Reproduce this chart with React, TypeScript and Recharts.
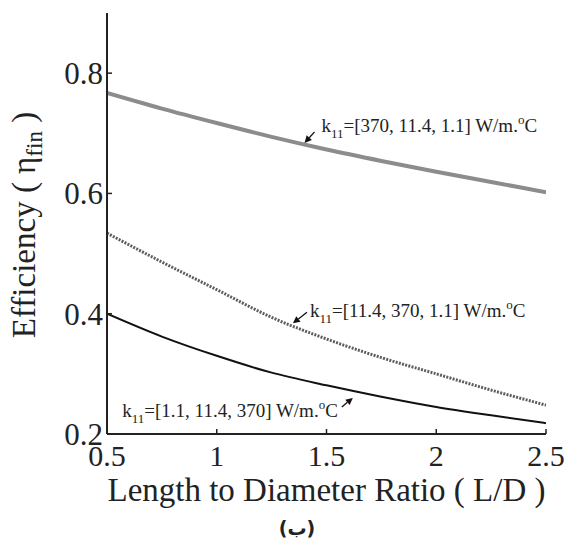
import React from 'react';
import { LineChart, Line, XAxis, YAxis, ReferenceDot } from 'recharts';

const ratios = [0.5, 0.75, 1.0, 1.25, 1.5, 1.75, 2.0, 2.25, 2.5];
const effA = [0.767, 0.741, 0.717, 0.694, 0.673, 0.654, 0.636, 0.619, 0.602];
const effB = [0.534, 0.486, 0.44, 0.394, 0.358, 0.327, 0.3, 0.273, 0.248];
const effC = [0.4, 0.362, 0.33, 0.302, 0.281, 0.262, 0.245, 0.231, 0.218];
const xTicks = [0.5, 1, 1.5, 2, 2.5];
const yTicks = [0.2, 0.4, 0.6, 0.8];
const labelA = '=[370, 11.4, 1.1] W/m.';
const labelB = '=[11.4, 370, 1.1] W/m.';
const labelC = '=[1.1, 11.4, 370] W/m.';

const data = ratios.map((r, i) => ({ r, a: effA[i], b: effB[i], c: effC[i] }));

const SERIF = '"Liberation Serif", "Times New Roman", serif';

const KText = ({ x, y, body, anchor }: any) => (
  <text x={x} y={y} fontFamily={SERIF} fontSize={19} fill="#222" textAnchor={anchor || 'start'}>
    <tspan>k</tspan>
    <tspan dy={6} fontSize={13}>11</tspan>
    <tspan dy={-6}>{body}</tspan>
    <tspan dy={-8} fontSize={13}>o</tspan>
    <tspan dy={8}>C</tspan>
  </text>
);

const makeArrow = (tdx: number, tdy: number, lx: number, ly: number, body: string, anchor?: string) => (props: any) => {
  const { cx, cy } = props;
  if (cx == null || cy == null) return <g />;
  const tx = cx + tdx;
  const ty = cy + tdy;
  const ang = Math.atan2(cy - ty, cx - tx);
  const hl = 7;
  const hw = 3.5;
  const bx = cx - hl * Math.cos(ang);
  const by = cy - hl * Math.sin(ang);
  const px = -Math.sin(ang) * hw;
  const py = Math.cos(ang) * hw;
  return (
    <g>
      <line x1={tx} y1={ty} x2={bx} y2={by} stroke="#111" strokeWidth={1.3} />
      <polygon points={`${cx},${cy} ${bx + px},${by + py} ${bx - px},${by - py}`} fill="#111" />
      <KText x={cx + lx} y={cy + ly} body={body} anchor={anchor} />
    </g>
  );
};

const XTitle = (props: any) => {
  const vb = props.viewBox || {};
  return (
    <text x={vb.x + vb.width / 2} y={vb.y + 67} textAnchor="middle" fontFamily={SERIF} fontSize={33} fill="#222">
      Length to Diameter Ratio ( L/D )
    </text>
  );
};

const YTitle = (props: any) => {
  const vb = props.viewBox || {};
  const x = 35;
  const y = vb.y + 212;
  return (
    <text x={x} y={y} transform={`rotate(-90, ${x}, ${y})`} textAnchor="middle" fontFamily={SERIF} fontSize={33} fill="#222">
      <tspan>Efficiency ( η</tspan>
      <tspan dy={7} fontSize={23}>fin</tspan>
      <tspan dy={-7}> )</tspan>
    </text>
  );
};

export default function App() {
  return (
    <div style={{ position: 'absolute', left: 0, top: 0, width: 567, height: 541, background: '#fff' }}>
      <LineChart width={567} height={541} data={data} margin={{ top: 13, right: 21, bottom: 47, left: 47 }}>
        <XAxis
          dataKey="r"
          type="number"
          domain={[0.5, 2.5]}
          ticks={xTicks}
          allowDataOverflow
          height={60}
          axisLine={{ stroke: '#222', strokeWidth: 2 }}
          tickLine={{ stroke: '#222', strokeWidth: 1.5 }}
          tickSize={-5}
          tickMargin={16}
          tick={{ fontFamily: SERIF, fontSize: 30, fill: '#222' }}
          label={<XTitle />}
        />
        <YAxis
          type="number"
          domain={[0.2, 0.9]}
          ticks={yTicks}
          allowDataOverflow
          width={60}
          axisLine={{ stroke: '#222', strokeWidth: 2 }}
          tickLine={{ stroke: '#222', strokeWidth: 1.5 }}
          tickSize={-5}
          tickMargin={9}
          tick={{ fontFamily: SERIF, fontSize: 31, fill: '#222' }}
          label={<YTitle />}
        />
        <Line type="monotone" dataKey="a" stroke="#8c8c8c" strokeWidth={4} dot={false} isAnimationActive={false} />
        <Line type="monotone" dataKey="b" stroke="#5e5e5e" strokeWidth={3} strokeDasharray="2 1.3" dot={false} isAnimationActive={false} />
        <Line type="monotone" dataKey="c" stroke="#111" strokeWidth={2} dot={false} isAnimationActive={false} />
        <ReferenceDot x={1.4} y={0.684} r={0} shape={makeArrow(10, -11, 17, -11, labelA)} />
        <ReferenceDot x={1.347} y={0.384} r={0} shape={makeArrow(14, -11, 17, -6, labelB)} />
        <ReferenceDot x={1.62} y={0.26} r={0} shape={makeArrow(-11, 9, -15, 19, labelC, 'end')} />
      </LineChart>
      <div
        style={{
          position: 'absolute',
          left: 0,
          width: 594,
          top: 517,
          textAlign: 'center',
          fontFamily: '"DejaVu Sans", sans-serif',
          fontWeight: 'bold',
          fontSize: 19,
          lineHeight: '22px',
          color: '#222',
        }}
      >
        (ب)
      </div>
    </div>
  );
}
